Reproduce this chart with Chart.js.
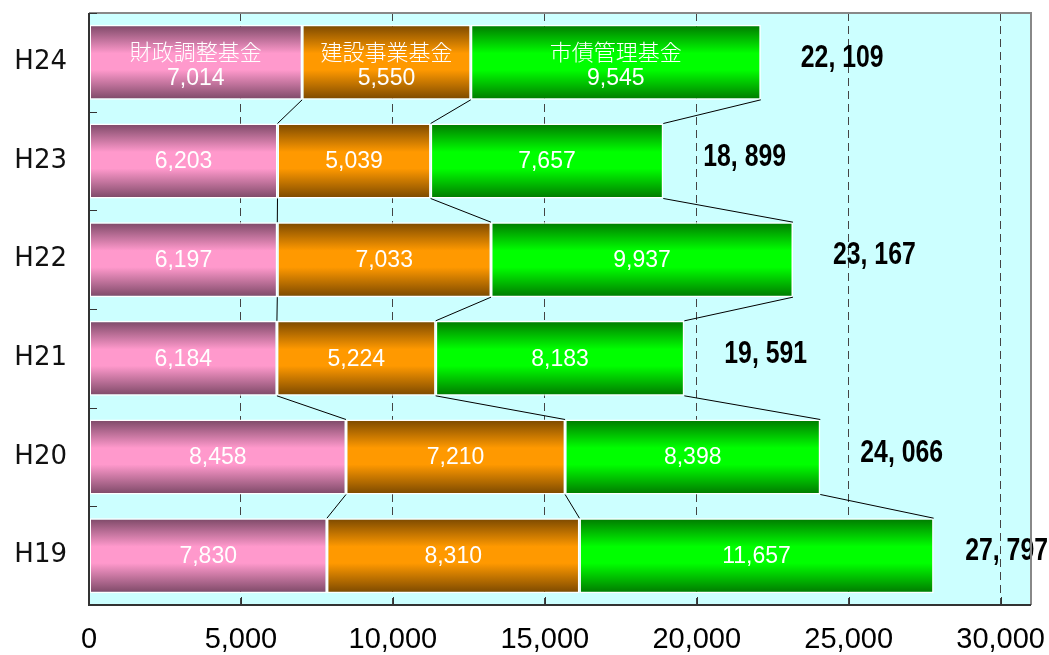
<!DOCTYPE html>
<html><head><meta charset="utf-8">
<script src="https://cdn.jsdelivr.net/npm/chart.js@4/dist/chart.umd.min.js"></script>
<style>html,body{margin:0;padding:0;background:#fff}#wrap{width:1049px;height:655px;position:relative}</style>
</head><body><div id="wrap"><canvas id="c"></canvas></div>
<script>
const categories = ['H24','H23','H22','H21','H20','H19'];
const seriesNames = ['財政調整基金','建設事業基金','市債管理基金'];
const zaiseiChosei = [7014,6203,6197,6184,8458,7830];
const kensetsuJigyo = [5550,5039,7033,5224,7210,8310];
const shisaiKanri = [9545,7657,9937,8183,8398,11657];
const xTickValues = [0,5000,10000,15000,20000,25000,30000];
const xMax = 31000;

const BAR_PCT = 0.76;
const seriesValues = [zaiseiChosei, kensetsuJigyo, shisaiKanri];
const palette = [
  {dark:'#7b4866', bright:'#ff99cc'},
  {dark:'#7a4800', bright:'#ff9900'},
  {dark:'#007800', bright:'#00ff00'}
];

function grad(p){
  return function(ctx){
    const chart = ctx.chart;
    const ys = chart.scales && chart.scales.y;
    if(!ys || ctx.dataIndex === undefined) return p.bright;
    const yc = ys.getPixelForValue(ctx.dataIndex);
    const step = Math.abs(ys.getPixelForValue(1) - ys.getPixelForValue(0));
    const bh = step * BAR_PCT;
    if(!isFinite(yc) || !isFinite(bh) || bh <= 0) return p.bright;
    const g = chart.ctx.createLinearGradient(0, yc - bh/2, 0, yc + bh/2);
    g.addColorStop(0, p.dark);
    g.addColorStop(0.38, p.bright);
    g.addColorStop(0.6, p.bright);
    g.addColorStop(1, p.dark);
    return g;
  };
}

const fmt = v => v.toLocaleString('en-US');
function noPad(s){ s.paddingLeft = 0; s.paddingRight = 0; s.paddingTop = 0; s.paddingBottom = 0; }

const deco = {
  id:'deco',
  beforeDraw(chart){
    const {ctx, chartArea:a} = chart;
    ctx.save();
    ctx.fillStyle = '#ccffff';
    ctx.fillRect(a.left, a.top, a.right - a.left, a.bottom - a.top);
    ctx.restore();
  },
  afterDatasetsDraw(chart){
    const {ctx, chartArea:a, scales:{x, y}} = chart;
    const metas = [0,1,2].map(i => chart.getDatasetMeta(i));
    ctx.save();
    // connector lines
    ctx.strokeStyle = '#000'; ctx.lineWidth = 1;
    for(let i = 0; i < categories.length - 1; i++){
      metas.forEach(m => {
        const e1 = m.data[i], e2 = m.data[i+1];
        ctx.beginPath();
        ctx.moveTo(e1.x, e1.y + e1.height/2);
        ctx.lineTo(e2.x, e2.y - e2.height/2);
        ctx.stroke();
      });
    }
    // segment labels
    ctx.fillStyle = '#ffffff';
    ctx.textAlign = 'center'; ctx.textBaseline = 'middle';
    const numFont = "23px 'Liberation Sans', Arial, sans-serif";
    metas.forEach((m, si) => {
      m.data.forEach((e, i) => {
        const cx = (e.x + e.base)/2;
        const val = fmt(seriesValues[si][i]);
        if(i === 0){
          ctx.font = "300 22px 'Noto Sans CJK JP', sans-serif";
          ctx.fillText(seriesNames[si], cx, e.y - 11);
          ctx.font = numFont;
          ctx.fillText(val, cx, e.y + 16);
        } else {
          ctx.font = numFont;
          ctx.fillText(val, cx, e.y + 1);
        }
      });
    });
    // totals (condensed bold)
    ctx.fillStyle = '#000';
    ctx.textAlign = 'left';
    ctx.font = "bold 31px 'Liberation Sans', Arial, sans-serif";
    const sx = 0.8;
    const last = metas[2];
    last.data.forEach((e, i) => {
      const total = zaiseiChosei[i] + kensetsuJigyo[i] + shisaiKanri[i];
      const txt = fmt(total).replace(',', ', ');
      const w = ctx.measureText(txt).width * sx;
      let lx = e.x + 40;
      if(lx + w > chart.width - 1) lx = chart.width - 1 - w;
      ctx.save();
      ctx.translate(lx, e.y - 4);
      ctx.scale(sx, 1);
      ctx.fillText(txt, 0, 0);
      ctx.restore();
    });
    // frame
    ctx.lineWidth = 2;
    ctx.strokeStyle = '#888';
    ctx.beginPath();
    ctx.moveTo(a.left, a.top); ctx.lineTo(a.right, a.top); ctx.lineTo(a.right, a.bottom);
    ctx.stroke();
    ctx.strokeStyle = '#333';
    ctx.beginPath();
    ctx.moveTo(a.left, a.top); ctx.lineTo(a.left, a.bottom); ctx.lineTo(a.right, a.bottom);
    ctx.stroke();
    // inward ticks
    ctx.lineWidth = 1;
    ctx.strokeStyle = '#333';
    xTickValues.forEach(v => {
      if(v === 0) return;
      const px = Math.round(x.getPixelForValue(v)) + 0.5;
      ctx.beginPath(); ctx.moveTo(px, a.bottom); ctx.lineTo(px, a.bottom - 8); ctx.stroke();
    });
    for(let i = 0; i <= categories.length; i++){
      const py = Math.round(y.getPixelForValue(i - 0.5)) + 0.5;
      ctx.beginPath(); ctx.moveTo(a.left, py); ctx.lineTo(a.left + 8, py); ctx.stroke();
    }
    ctx.restore();
  }
};

new Chart(document.getElementById('c'), {
  type:'bar',
  data:{
    labels: categories,
    datasets: seriesValues.map((vals, i) => ({
      label: seriesNames[i],
      data: vals,
      backgroundColor: grad(palette[i]),
      borderColor: '#ffffff',
      borderWidth: 1.5,
      borderSkipped: false,
      barPercentage: BAR_PCT,
      categoryPercentage: 1
    }))
  },
  options:{
    indexAxis:'y',
    responsive:true,
    maintainAspectRatio:false,
    animation:false,
    layout:{padding:{left:0, right:18, top:13, bottom:0}},
    plugins:{legend:{display:false}, tooltip:{enabled:false}},
    scales:{
      x:{
        stacked:true, min:0, max:xMax,
        afterBuildTicks(s){ s.ticks = xTickValues.map(v => ({value:v})); },
        afterFit(s){ s.height = 50; noPad(s); },
        grid:{
          drawTicks:false,
          color: c => (c.tick && c.tick.value === 0) ? 'rgba(0,0,0,0)' : '#444',
          lineWidth:1
        },
        border:{display:false, dash:[8,5]},
        ticks:{
          padding:18,
          color:'#000',
          maxRotation:0,
          font:{family:"'Liberation Sans', Arial, sans-serif", size:29},
          callback: v => fmt(v)
        }
      },
      y:{
        stacked:true,
        afterFit(s){ s.width = 89; noPad(s); },
        grid:{display:false, drawTicks:false},
        border:{display:false},
        ticks:{
          padding:22,
          color:'#111',
          font:{family:"'DejaVu Sans', sans-serif", size:26}
        }
      }
    }
  },
  plugins:[deco]
});
</script>
</body></html>
